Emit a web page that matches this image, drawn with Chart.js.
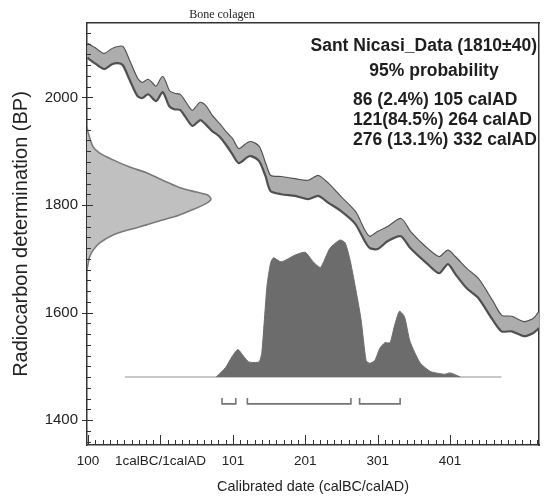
<!DOCTYPE html>
<html><head><meta charset="utf-8">
<script src="https://cdn.jsdelivr.net/npm/chart.js@4.4.1/dist/chart.umd.min.js"></script>
<style>html,body{margin:0;padding:0;background:#fff;}canvas{display:block;}</style>
</head><body>
<canvas id="c" width="545" height="496"></canvas>
<script>
// ---- calibration curve (IntCal band, BP) ----
const calYears = [-100,-90,-77,-66,-58,-51,-42,-31,-24,-16,-5,4,13,20,28,35,45,56,64,72,82,91,100,109,121,126,137,146,153,168,187,205,219,233,250,270,283,290,301,315,333,346,370,386,398,408,424,440,459,472,486,503,516,524];
const calUpper = [2100,2092,2081,2090,2094,2094,2068,2035,2027,2033,2020,2038,2012,2007,2005,1992,1975,1990,1983,1966,1951,1936,1923,1904,1915,1917,1908,1876,1854,1852,1848,1845,1854,1839,1815,1787,1752,1741,1750,1759,1774,1750,1718,1703,1715,1703,1681,1662,1622,1594,1592,1582,1588,1601];
const calLower = [2074,2064,2053,2062,2064,2060,2034,2003,1999,2006,1993,2010,1984,1978,1977,1965,1947,1958,1949,1938,1928,1913,1895,1878,1889,1891,1882,1854,1826,1820,1817,1811,1817,1804,1789,1765,1733,1720,1718,1733,1742,1720,1690,1673,1690,1672,1645,1627,1588,1565,1565,1556,1562,1571];

// ---- radiocarbon measurement 1810±40 (relative density) ----
const c14BP      = [1945,1934,1908,1897,1884,1871,1860,1846,1833,1824,1819,1811,1804,1791,1781,1772,1763,1754,1744,1729,1716,1703,1692,1680];
const c14Density = [0,0.01,0.05,0.10,0.21,0.34,0.48,0.61,0.74,0.88,0.97,1.00,0.97,0.85,0.74,0.61,0.48,0.34,0.21,0.10,0.05,0.02,0.01,0];

// ---- calibrated probability distribution (relative) ----
const probYears  = [78,91,100,108,116,123,137,141,148,153,157,168,187,201,212,222,235,249,256,263,270,278,285,290,297,304,311,318,324,331,338,345,352,360,374,393,401,411,415];
const probValues = [0,0.07,0.15,0.20,0.15,0.11,0.11,0.18,0.66,0.83,0.87,0.84,0.89,0.91,0.84,0.80,0.94,1.00,0.98,0.85,0.66,0.42,0.12,0.10,0.12,0.21,0.25,0.25,0.37,0.48,0.44,0.27,0.18,0.10,0.04,0.02,0.03,0.01,0];
const baseYears  = [-48, 472];

// ---- 95% ranges ----
const rangeStarts = [86, 121, 276];
const rangeEnds   = [105, 264, 332];
const bracketBP = 1430, bracketTickBP = 1441;

// ---- ticks / text ----
const xMajorTicks = [-99, 1, 101, 201, 301, 401];
const xTickLabels = ['100', '1calBC/1calAD', '101', '201', '301', '401'];
const yMajorTicks = [1400, 1600, 1800, 2000];
const chartTitle = 'Bone colagen';
const sampleLabel = 'Sant Nicasi_Data (1810\u00b140)';
const probLabel = '95% probability';
const rangeLines = ['86 (2.4%) 105 calAD', '121(84.5%) 264 calAD', '276 (13.1%) 332 calAD'];

const SANS = '"Liberation Sans", Arial, Helvetica, sans-serif';

const pts = (xs, ys) => xs.map((x, i) => ({x, y: ys[i]}));

const datasets = [
  {label:'curveUpper', data: pts(calYears, calUpper), xAxisID:'x', yAxisID:'y',
   borderColor:'#505050', borderWidth:2.2, pointRadius:0, tension:0.25, fill:false, order:6},
  {label:'curveLower', data: pts(calYears, calLower), xAxisID:'x', yAxisID:'y',
   borderColor:'#505050', borderWidth:2.2, pointRadius:0, tension:0.25, fill:'-1', backgroundColor:'#adadad', order:5},
  {label:'measurement', data: c14BP.map((y, i) => ({x: c14Density[i], y})), xAxisID:'xg', yAxisID:'y', indexAxis:'y',
   borderColor:'#7a7a7a', borderWidth:1.6, pointRadius:0, tension:0.3, fill:'shape', backgroundColor:'#c0c0c0', order:4},
  {label:'baseline', data: baseYears.map(x => ({x, y:0})), xAxisID:'x', yAxisID:'yp',
   borderColor:'#c8c8c8', borderWidth:2, pointRadius:0, fill:false, order:3},
  {label:'calibrated', data: pts(probYears, probValues), xAxisID:'x', yAxisID:'yp',
   borderColor:'#6c6c6c', borderWidth:1, pointRadius:0, tension:0.2, fill:'origin', backgroundColor:'#6c6c6c', order:2}
];
rangeStarts.forEach((a, i) => {
  const b = rangeEnds[i];
  datasets.push({label:'range', data:[{x:a,y:bracketTickBP},{x:a,y:bracketBP},{x:b,y:bracketBP},{x:b,y:bracketTickBP}],
    xAxisID:'x', yAxisID:'y', borderColor:'#747474', borderWidth:1.6, pointRadius:0, tension:0, fill:false, order:1});
});

const decor = {
  id:'decor',
  afterDraw(chart){
    const {ctx, chartArea:a, scales:{x, y}} = chart;
    ctx.save();
    ctx.strokeStyle = '#333'; ctx.lineWidth = 1;
    ctx.beginPath();
    x.ticks.forEach(t => {
      const px = Math.round(x.getPixelForValue(t.value)) + 0.5;
      const L = xMajorTicks.includes(t.value) ? 10 : 5;
      ctx.moveTo(px, a.bottom); ctx.lineTo(px, a.bottom - L);
    });
    y.ticks.forEach(t => {
      const py = Math.round(y.getPixelForValue(t.value)) + 0.5;
      const major = yMajorTicks.includes(t.value);
      ctx.moveTo(a.left - (major ? 5 : 0), py); ctx.lineTo(a.left + (major ? 6 : 4), py);
    });
    ctx.stroke();
    ctx.fillStyle = '#1e1e1e';
    ctx.textBaseline = 'middle';
    ctx.font = '12px "Liberation Serif", "Times New Roman", serif';
    ctx.textAlign = 'center';
    ctx.fillText(chartTitle, 222, 15);
    ctx.font = 'bold 17.5px ' + SANS;
    ctx.textAlign = 'right';
    ctx.fillText(sampleLabel, 537, 46);
    ctx.textAlign = 'center';
    ctx.fillText(probLabel, 434, 71);
    ctx.textAlign = 'left';
    rangeLines.forEach((s, i) => ctx.fillText(s, 353, 100 + i * 20));
    ctx.restore();
  }
};

new Chart(document.getElementById('c'), {
  type:'line',
  data:{datasets},
  options:{
    responsive:false, animation:false,
    layout:{padding:{top:23, right:2, left:0, bottom:0}},
    plugins:{legend:{display:false}, tooltip:{enabled:false}},
    scales:{
      x:{type:'linear', position:'bottom', min:-100.5, max:524,
         afterBuildTicks:s => { const t = []; for (let v = xMajorTicks[0]; v <= s.max; v += 10) t.push({value:v}); s.ticks = t; },
         afterFit:s => { s.height = 51; },
         grid:{display:false, drawTicks:false},
         border:{display:true, color:'#333', width:1.5},
         ticks:{autoSkip:false, maxRotation:0, padding:8, color:'#222', font:{family:SANS, size:13.5},
                callback:v => { const i = xMajorTicks.indexOf(v); return i >= 0 ? xTickLabels[i] : ''; }},
         title:{display:true, text:'Calibrated date (calBC/calAD)', color:'#222', font:{family:SANS, size:14.4}, padding:{top:0, bottom:0}}},
      y:{type:'linear', position:'left', min:1353.5, max:2138.6,
         afterBuildTicks:s => { const t = []; for (let v = 1360; v <= s.max; v += 20) t.push({value:v}); s.ticks = t; },
         afterFit:s => { s.width = 87; },
         grid:{display:false, drawTicks:false},
         border:{display:true, color:'#333', width:1.5},
         ticks:{autoSkip:false, padding:9, color:'#222', font:{family:SANS, size:15},
                callback:v => yMajorTicks.includes(v) ? String(v) : ''},
         title:{display:true, text:'Radiocarbon determination (BP)', color:'#222', font:{family:SANS, size:20}, padding:{top:9, bottom:0}}},
      xTop:{type:'linear', position:'top', display:true, grid:{display:false, drawTicks:false}, ticks:{display:false},
            border:{display:true, color:'#333', width:1.5}},
      yRight:{type:'linear', position:'right', display:true, grid:{display:false, drawTicks:false}, ticks:{display:false},
            border:{display:true, color:'#333', width:1.5}},
      xg:{type:'linear', display:false, min:0, max:3.648},
      yp:{type:'linear', display:false, min:-0.4964, max:2.5839}
    }
  },
  plugins:[decor]
});
</script>
</body></html>
